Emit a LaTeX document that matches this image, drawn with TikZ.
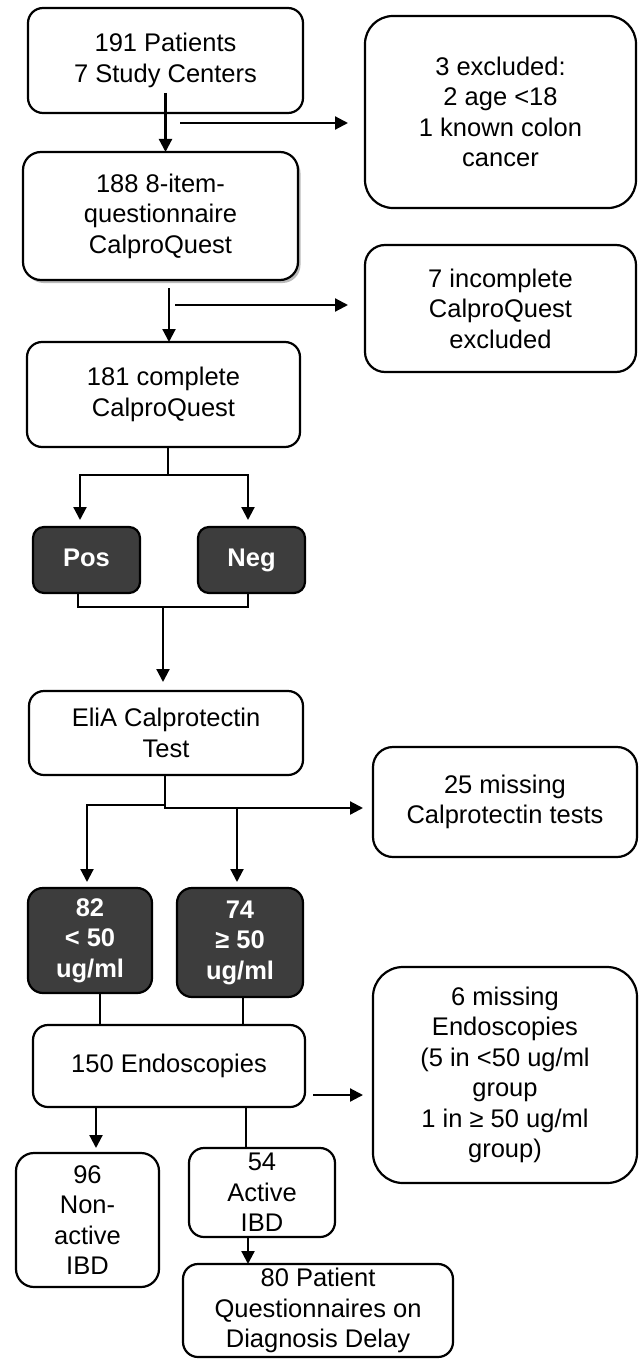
\documentclass[tikz,border=0pt]{standalone}
\usepackage{fontspec}
\setmainfont{Liberation Sans}
\usetikzlibrary{arrows.meta,shadows}
\begin{document}
\begin{tikzpicture}[x=1pt,y=-1pt,
  every node/.style={font=\fontsize{25.5}{30.5}\selectfont},
  box/.style={draw=black,line width=2.2pt,fill=white,rounded corners=#1,align=center,inner sep=0pt,outer sep=0pt},
  box/.default=15pt,
  dark/.style={box=#1,fill=black!76,text=white,font=\fontsize{25.5}{30.5}\selectfont\bfseries},
  dark/.default=12pt,
  conn/.style={line width=2.2pt,black},
  arr/.style={conn,-{Triangle[width=13pt,length=13pt]}}
]
\useasboundingbox (0,0) rectangle (638,1359);

% boxes
\node[box=15pt,minimum width=275pt,minimum height=105pt] (b1) at (165.5,60.5) {191 Patients\\7 Study Centers};
\node[box=28pt,minimum width=271pt,minimum height=192pt] (ex1) at (500.5,112) {3 excluded:\\2 age <18\\1 known colon\\cancer};
\node[box=18pt,minimum width=275pt,minimum height=128pt,drop shadow={shadow xshift=2.5pt,shadow yshift=-3pt,fill=black!45,opacity=0.6}] (b2) at (160.5,216) {188 8-item-\\questionnaire\\CalproQuest};
\node[box=20pt,minimum width=271pt,minimum height=127pt] (ex2) at (500.5,308.5) {7 incomplete\\CalproQuest\\excluded};
\node[box=15pt,minimum width=273pt,minimum height=105pt] (b3) at (163.5,394.5) {181 complete\\CalproQuest};
\node[dark=11pt,minimum width=107pt,minimum height=66pt,text height=18pt,text depth=5pt] (pos) at (86.5,560) {Pos};
\node[dark=11pt,minimum width=107pt,minimum height=66pt,text height=18pt,text depth=5pt] (neg) at (251.5,560) {Neg};
\node[box=15pt,minimum width=274pt,minimum height=84pt] (eli) at (166,733) {EliA Calprotectin\\Test};
\node[box=20pt,minimum width=264pt,minimum height=110pt] (m25) at (505,802) {25 missing\\Calprotectin tests};
\node[dark=15pt,minimum width=124pt,minimum height=105pt] (lo) at (90,940.5) {82\\< 50\\ug/ml};
\node[dark=15pt,minimum width=126pt,minimum height=109pt] (hi) at (240,942.5) {74\\≥ 50\\ug/ml};
\node[box=15pt,minimum width=272pt,minimum height=82pt] (endo) at (169,1066) {150 Endoscopies};
\node[box=30pt,minimum width=264pt,minimum height=216pt] (m6) at (505,1075) {6 missing\\Endoscopies\\(5 in <50 ug/ml\\group\\1 in ≥ 50 ug/ml\\group)};
\node[box=18pt,minimum width=143pt,minimum height=134pt] (non) at (87.5,1220) {96\\Non-\\active\\IBD};
\node[box=15pt,minimum width=146pt,minimum height=89pt] (act) at (262,1192.5) {54\\Active\\IBD};
\node[box=15pt,minimum width=270pt,minimum height=93pt] (q80) at (318,1310.5) {80 Patient\\Questionnaires on\\Diagnosis Delay};

% junction coordinates
\coordinate (s1) at (180,123);
\coordinate (a2) at (169,288);
\coordinate (s2) at (175,305);
\coordinate (j1) at (168,475);
\coordinate (j2) at (163,607);
\coordinate (j3) at (165,805);
\coordinate (j3r) at (237,808);
\coordinate (e6) at (313,1095);

% connectors
\draw[arr] ([yshift=20pt]b1.south) -- (b1.south |- b2.north);
\draw[arr,shorten >=17pt] (s1) -- (s1 -| ex1.west);
\draw[arr] (a2) -- (a2 |- b3.north);
\draw[arr,shorten >=17pt] (s2) -- (s2 -| ex2.west);

\draw[conn] (b3.south -| j1) -- (j1);
\draw[arr,shorten >=7pt] (j1) -| ([xshift=-6.5pt]pos.north);
\draw[arr,shorten >=7pt] (j1) -| ([xshift=-3.5pt]neg.north);

\draw[conn] ([xshift=-8.5pt]pos.south) |- (j2) -| ([xshift=-3.5pt]neg.south);
\draw[arr,shorten >=9pt] (j2) -- (j2 |- eli.north);

\draw[conn] (eli.south -| j3) -- (j3);
\draw[arr,shorten >=6pt] (j3) -| ([xshift=-3pt]lo.north);
\draw[arr,shorten >=10pt] (j3) |- (j3r) -- (j3r -| m25.west);
\draw[arr,shorten >=6pt] (j3r) -- (j3r |- hi.north);

\draw[conn] ([xshift=10pt]lo.south) -- ([xshift=10pt]lo.south |- endo.north);
\draw[conn] ([xshift=3pt]hi.south) -- ([xshift=3pt]hi.south |- endo.north);

\draw[arr,shorten >=5pt] ([xshift=8.5pt]non.north |- endo.south) -- ([xshift=8.5pt]non.north);
\draw[conn] ([xshift=-16pt]act.north |- endo.south) -- ([xshift=-16pt]act.north);
\draw[arr,shorten >=10pt] (e6) -- (e6 -| m6.west);
\draw[arr] ([xshift=-14pt]act.south) -- ([xshift=-14pt]act.south |- q80.north);
\end{tikzpicture}
\end{document}
